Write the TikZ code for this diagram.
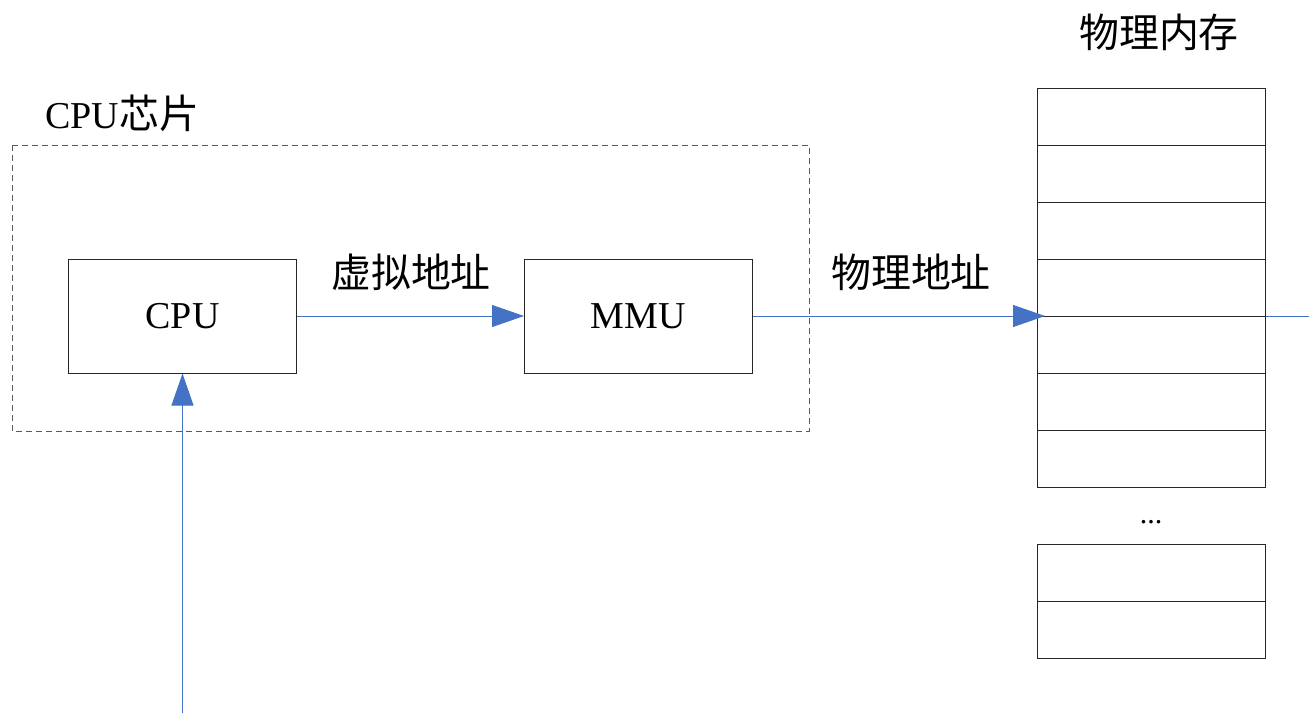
\documentclass[tikz,border=0pt]{standalone}
\usepackage{fontspec}
\setmainfont{Liberation Serif}
\newfontfamily\cjk[Scale=1.05]{Noto Sans CJK SC}
\usetikzlibrary{arrows.meta}
\definecolor{lineblue}{HTML}{4472C4}
\definecolor{boxgray}{HTML}{262626}
\definecolor{dashgray}{HTML}{5A5A5A}
\tikzset{
  box/.style={draw=boxgray, line width=1pt, minimum width=228pt, minimum height=114pt, inner sep=0pt},
  cell/.style={draw=boxgray, line width=1pt, minimum width=228pt, minimum height=57pt, inner sep=0pt, anchor=north west},
  lbl/.style={inner sep=0pt, font=\fontsize{38}{40}\selectfont},
  link/.style={draw=lineblue, line width=0.9pt, -{Triangle[length=32pt,width=22pt]}},
  plain/.style={draw=lineblue, line width=0.9pt},
  chip/.style={draw=dashgray, line width=0.9pt, dash pattern=on 6pt off 4pt}
}
\begin{document}
\begin{tikzpicture}[x=1pt,y=-1pt]
\useasboundingbox (0,0) rectangle (1309,713);
% chip boundary
\draw[chip] (12,145) rectangle (809,431);
\node[lbl, anchor=west] (chiplbl) at (45,113) {CPU\cjk 芯片};
% CPU and MMU
\node[box, lbl] (cpu) at (182.5,316) {CPU};
\node[box, lbl] (mmu) at (638.5,316) {MMU};
% memory
\node[lbl] (memlbl) at (1159,32) {\cjk 物理内存};
\foreach \i in {1,...,7} {
  \node[cell] (m\i) at (1037,{88+57*(\i-1)}) {};
}
\node[cell] (m8) at (1037,544) {};
\node[cell] (m9) at (1037,601) {};
\node[inner sep=0pt, font=\fontsize{30}{32}\selectfont] (dots) at (1151,522) {...};
% labels
\node[lbl] (vlbl) at (411,272) {\cjk 虚拟地址};
\node[lbl] (plbl) at (911,272) {\cjk 物理地址};
% connectors
\coordinate (inbot) at (182.5,713);
\coordinate (outend) at (1309,316);
\draw[link] (cpu.east) -- (mmu.west);
\draw[link, shorten >=-8pt] (mmu.east) -- (m5.north west);
\draw[plain] (m5.north east) -- (outend);
\draw[link] (inbot) -- (cpu.south);
\end{tikzpicture}
\end{document}
